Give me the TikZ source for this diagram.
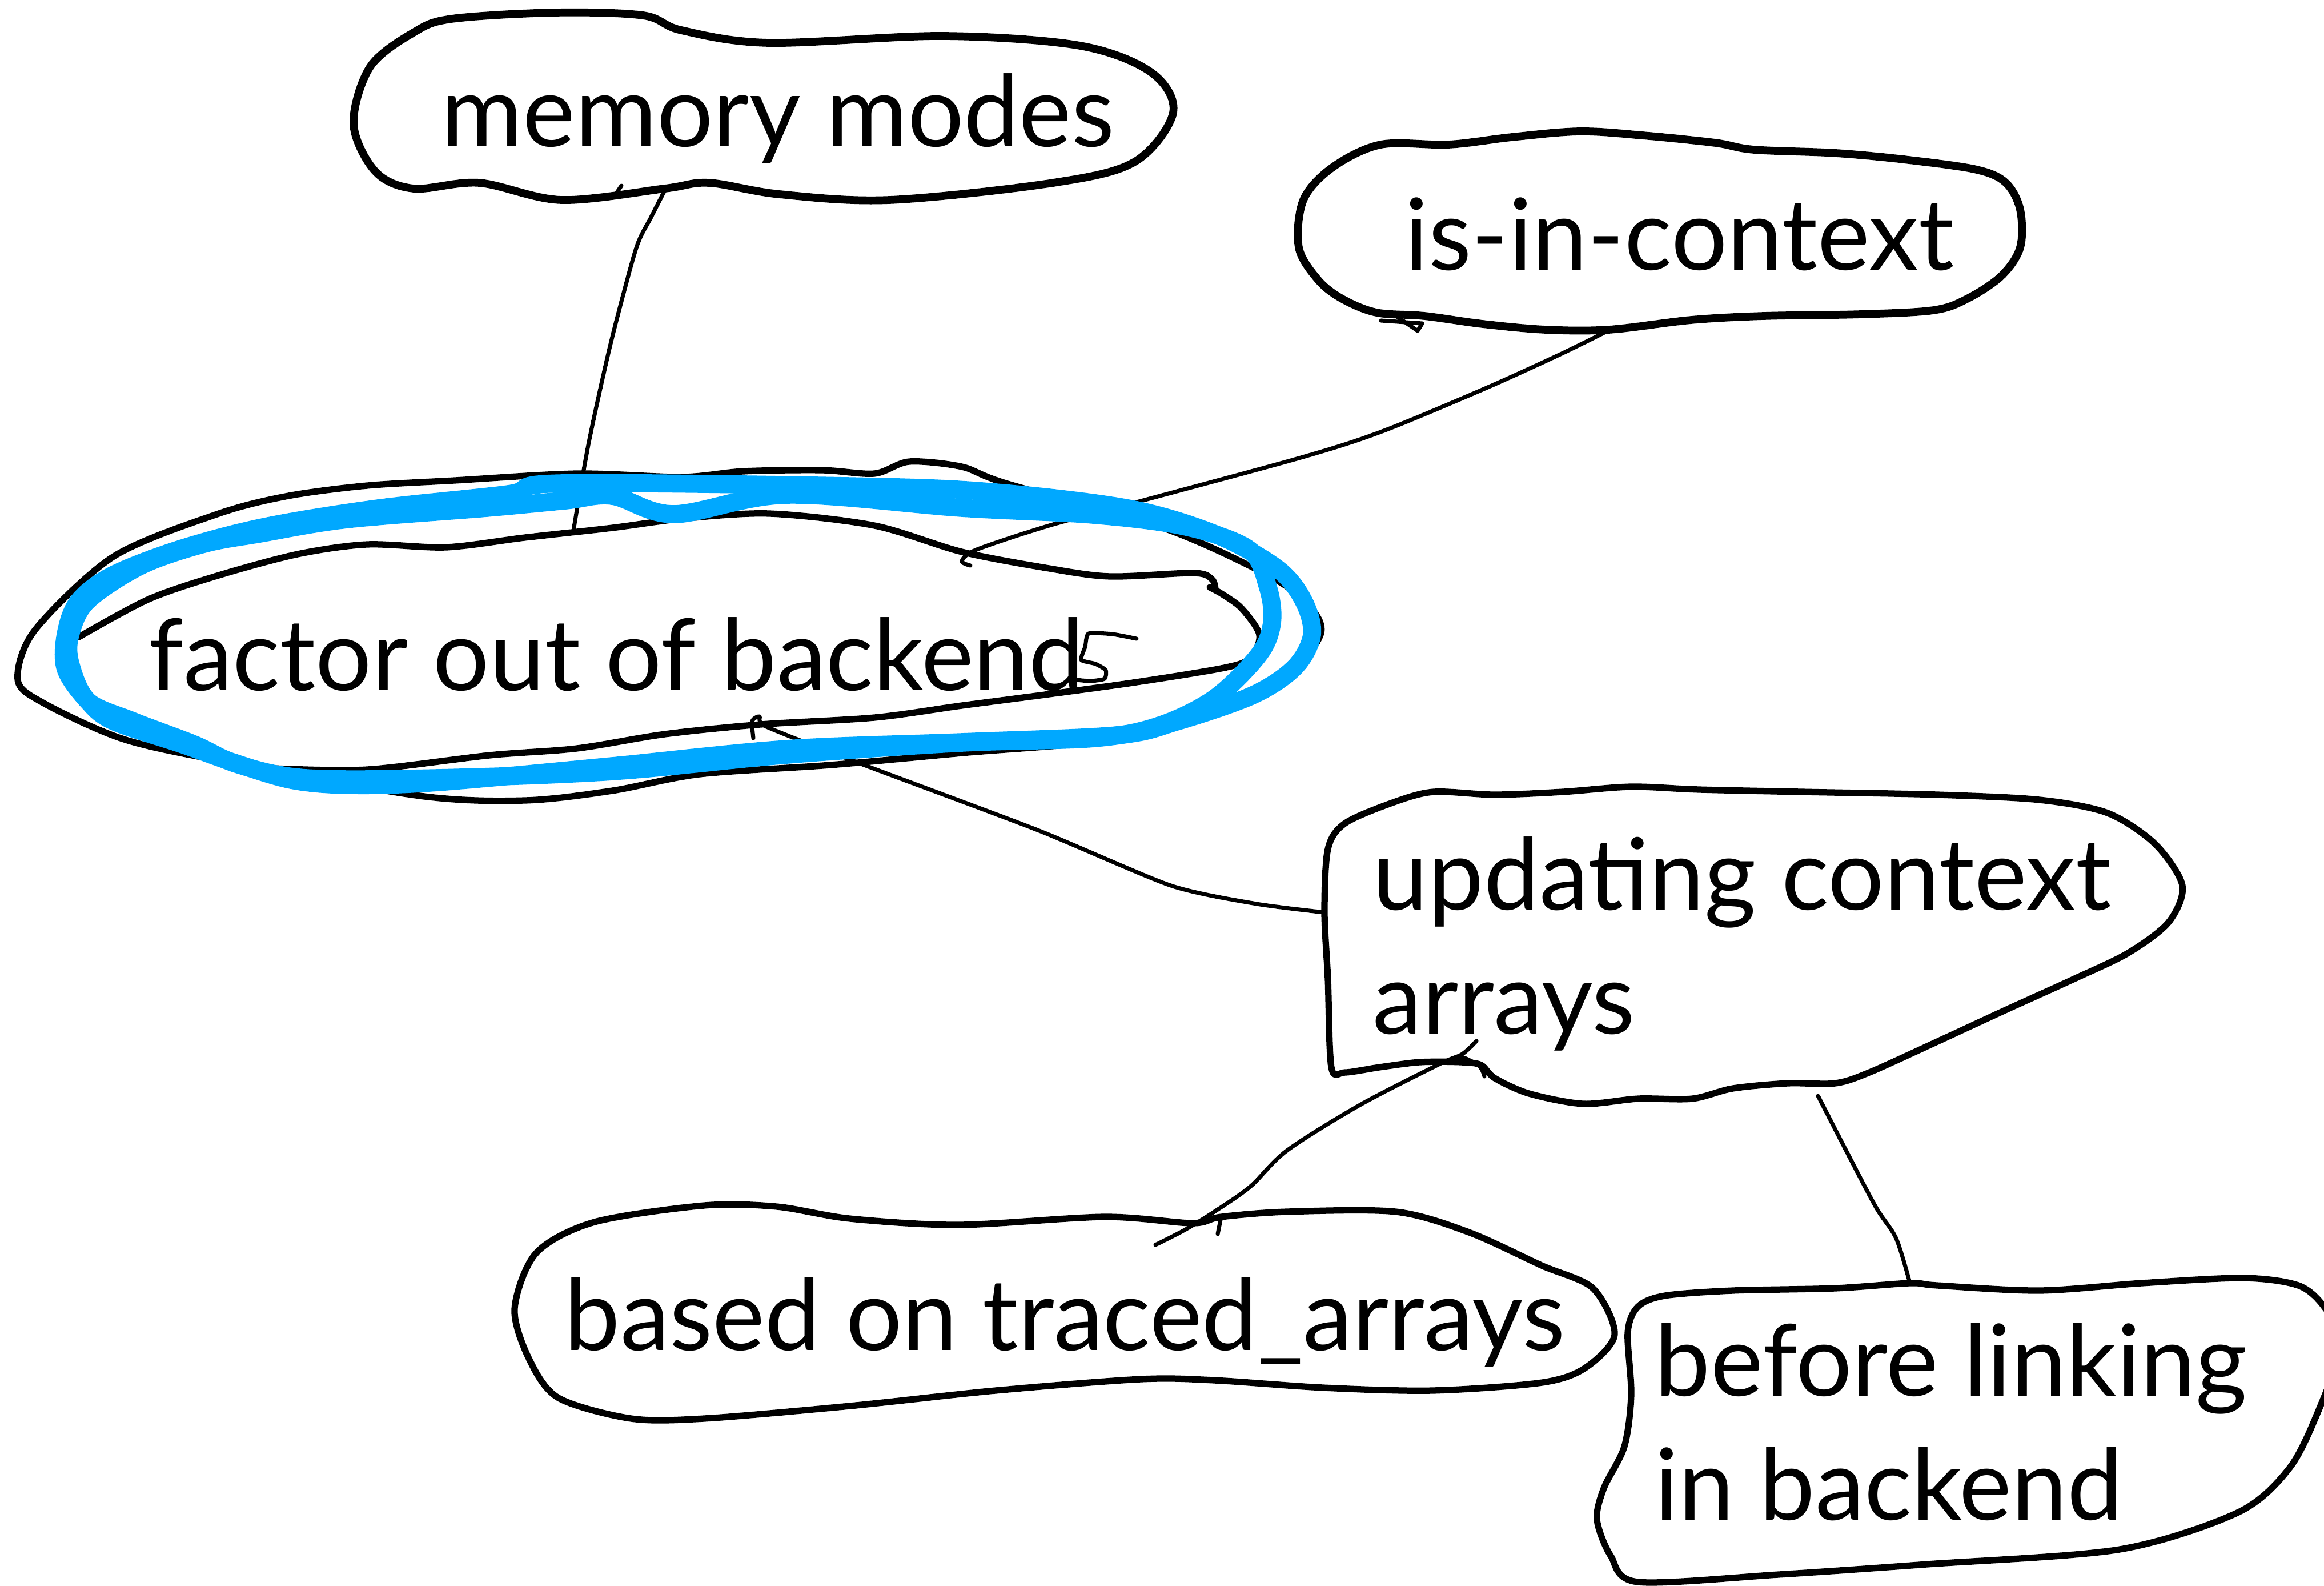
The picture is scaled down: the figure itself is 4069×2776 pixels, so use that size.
\documentclass[tikz,border=0pt]{standalone}
\usepackage{fontspec}
\setmainfont{Lato}
\definecolor{marker}{RGB}{0,168,255}
\begin{document}
\begin{tikzpicture}[x=0.01cm,y=-0.01cm,
  blob/.style={line width=3.2pt, line join=round, line cap=round},
  heavyblob/.style={line width=3.9pt, line join=round, line cap=round},
  link/.style={line width=2pt, line cap=round, line join=round},
  label/.style={inner sep=0pt, anchor=base west, align=left,
                font=\fontsize{49.4}{61.5}\selectfont},
  highlight/.style={draw=marker, line width=9pt, line cap=round, line join=round}]
\useasboundingbox (0,0) rectangle (4069,2776);
\fill[white] (0,0) rectangle (4069,2776);
\clip (0,0) rectangle (4069,2776);

% ---------- texts (multi-line labels are anchored on their last line) ----------
\node[label] (mem) at (772,257) {memory modes};
\node[label] (ctx) at (2459,473) {is-in-context};
\node[label] (fac) at (260,1208) {factor out of backend};
\node[label] (upd) at (2403,1809) {updating context\\arrays};
\node[label] (trc) at (988,2363) {based on traced\_arrays};
\node[label] (lnk) at (2897,2660) {before linking\\in backend};

% ---------- hand-drawn outlines ----------
% memory modes
\draw[heavyblob] plot[smooth cycle, tension=0.55] coordinates {
  (791,33) (973,22) (1126,27) (1193,53) (1346,75) (1652,63) (1891,80)
  (2016,127) (2054,197) (1987,283) (1844,320) (1557,350) (1365,340)
  (1241,320) (1164,330) (983,350) (839,320) (724,330) (657,300)
  (619,217) (648,117) (724,57)};
\draw[link] (1088,325) -- (1078,340);

% is-in-context
\draw[heavyblob] plot[smooth cycle, tension=0.55] coordinates {
  (2418,253) (2537,253) (2647,240) (2766,230) (2876,237) (3003,250)
  (3071,262) (3215,268) (3342,280) (3461,297) (3512,320) (3537,367)
  (3537,433) (3504,483) (3444,523) (3385,543) (3258,550) (3088,553)
  (2961,560) (2817,577) (2706,577) (2596,567) (2494,553) (2410,547)
  (2350,523) (2308,490) (2274,433) (2282,350) (2333,293)};
\draw[link] (2418,561) -- (2490,566) -- (2482,579) -- (2440,550);

% factor out of backend: outer loop
\draw[blob] plot[smooth cycle, tension=0.5] coordinates {
  (1010,829) (796,841) (643,850) (505,868) (383,899) (199,974)
  (61,1103) (31,1190) (77,1231) (214,1293) (383,1331) (735,1393)
  (919,1401) (1072,1384) (1225,1355) (1454,1339) (1684,1318)
  (1990,1289) (2220,1214) (2312,1111) (2281,1049) (2205,999)
  (2036,924) (1761,846) (1684,817) (1592,808) (1531,829) (1439,823)
  (1301,825) (1194,835)};
% factor out of backend: inner stroke
\draw[blob] plot[smooth, tension=0.5] coordinates {
  (138,1115) (260,1049) (383,1007) (521,970) (643,953) (781,958)
  (919,941) (1072,924) (1194,908) (1347,899) (1531,920) (1684,966)
  (1837,995) (1944,1009) (2090,1003) (2122,1014) (2128,1032)};
\draw[blob] plot[smooth, tension=0.5] coordinates {
  (2118,1028) (2140,1040) (2174,1065) (2205,1111) (2189,1152)
  (2143,1169) (1990,1194) (1837,1215) (1684,1235) (1531,1256)
  (1332,1268) (1164,1285) (1010,1310) (857,1322) (643,1347) (480,1345)};
% hand-written final letter
\draw[link] plot[smooth, tension=0.35] coordinates {
  (1990,1118) (1948,1110) (1906,1109) (1900,1132) (1893,1155)
  (1918,1162) (1936,1173) (1934,1188) (1910,1192) (1884,1190)};

% updating context arrays
\draw[blob] plot[smooth cycle, tension=0.5] coordinates {
  (2319,1596) (2325,1486) (2355,1441) (2438,1405) (2510,1386)
  (2617,1391) (2736,1386) (2856,1377) (2975,1382) (3154,1386)
  (3392,1391) (3571,1400) (3690,1423) (3773,1477) (3821,1550)
  (3797,1614) (3726,1668) (3630,1714) (3511,1768) (3392,1823)
  (3273,1877) (3213,1896) (3130,1896) (3034,1905) (2963,1923)
  (2868,1923) (2772,1932) (2677,1914) (2617,1887) (2593,1864)
  (2558,1859) (2486,1859) (2415,1868) (2355,1877) (2331,1868)
  (2325,1714)};

% based on traced_arrays
\draw[blob] plot[smooth cycle, tension=0.5] coordinates {
  (901,2291) (939,2193) (1041,2139) (1233,2110) (1360,2112)
  (1488,2133) (1679,2144) (1934,2130) (2087,2141) (2138,2130)
  (2253,2121) (2444,2121) (2572,2157) (2699,2215) (2789,2255)
  (2827,2336) (2776,2394) (2700,2420) (2508,2434) (2317,2429)
  (2126,2416) (1998,2414) (1743,2434) (1488,2461) (1233,2483)
  (1105,2483) (978,2447) (927,2380)};
\draw[link] (2132,2160) -- (2138,2130);

% before linking in backend (runs off the right edge)
\draw[blob] plot[smooth cycle, tension=0.5] coordinates {
  (3344,2246) (3213,2255) (3034,2259) (2915,2268) (2868,2287)
  (2850,2332) (2856,2441) (2844,2532) (2808,2605) (2796,2660)
  (2820,2723) (2868,2769) (3114,2756) (3374,2738) (3711,2712)
  (3919,2647) (4009,2569) (4061,2465) (4100,2350) (4069,2287)
  (4024,2250) (3928,2237) (3750,2246) (3571,2259) (3392,2250)};

% ---------- connector end points ----------
\coordinate (mem-s) at (1164,333);
\coordinate (fac-n) at (1004,929);
\coordinate (ctx-s) at (2817,578);
\coordinate (fac-ne) at (1699,990);
\coordinate (fac-s) at (1319,1292);
\coordinate (upd-w) at (2319,1597);
\coordinate (upd-s) at (2585,1822);
\coordinate (trc-n) at (2023,2179);
\coordinate (upd-se) at (3183,1918);
\coordinate (lnk-n) at (3344,2246);

% ---------- connectors ----------
\draw[link] plot[smooth, tension=0.5] coordinates {
  (mem-s) (1140,380) (1116,428) (1090,520) (1064,623) (1030,779) (fac-n)};
\draw[link] plot[smooth, tension=0.5] coordinates {
  (ctx-s) (2732,620) (2600,680) (2420,755) (2281,800) (1990,879)
  (1837,920) (1710,962) (1684,982) (fac-ne)};
\draw[link] plot[smooth, tension=0.4] coordinates {
  (fac-s) (1317,1262) (1330,1254) (1342,1272) (1505,1336) (1817,1453)
  (2050,1550) (2200,1582) (upd-w)};
\draw[link] plot[smooth, tension=0.5] coordinates {
  (upd-s) (2560,1845) (2521,1862) (2381,1934) (2253,2014) (2189,2077)
  (2126,2121) (2074,2153) (trc-n)};
\draw[link] plot[smooth, tension=0.5] coordinates {
  (2534,1859) (2558,1850) (2590,1866) (2599,1884)};
\draw[link] plot[smooth, tension=0.5] coordinates {
  (upd-se) (3237,2023) (3285,2114) (3320,2168) (lnk-n)};

% ---------- blue marker ring, drawn twice round ----------
\draw[highlight] plot[smooth cycle, tension=0.55] coordinates {
  (985,846) (1531,852) (1755,863) (1980,891) (2130,936) (2236,995)
  (2282,1051) (2297,1111) (2267,1168) (2193,1217) (2060,1263)
  (1955,1287) (1684,1299) (1378,1311) (1072,1341) (766,1369)
  (612,1374) (510,1365) (410,1335) (320,1303) (198,1262) (152,1225)
  (115,1171) (115,1111) (137,1053) (197,1007) (316,961) (465,922)
  (662,890) (890,865)};
\draw[highlight] plot[smooth cycle, tension=0.55] coordinates {
  (455,934) (607,909) (852,889) (990,876) (1072,868) (1180,900)
  (1378,866) (1684,889) (1914,901) (2077,922) (2187,962) (2220,1028)
  (2227,1090) (2204,1146) (2127,1222) (2030,1270) (1916,1292)
  (1684,1300) (1378,1321) (1072,1350) (766,1362) (536,1362)
  (417,1338) (340,1303) (232,1262) (154,1227) (123,1161) (123,1111)
  (153,1052) (247,990) (357,952)};
\end{tikzpicture}
\end{document}
